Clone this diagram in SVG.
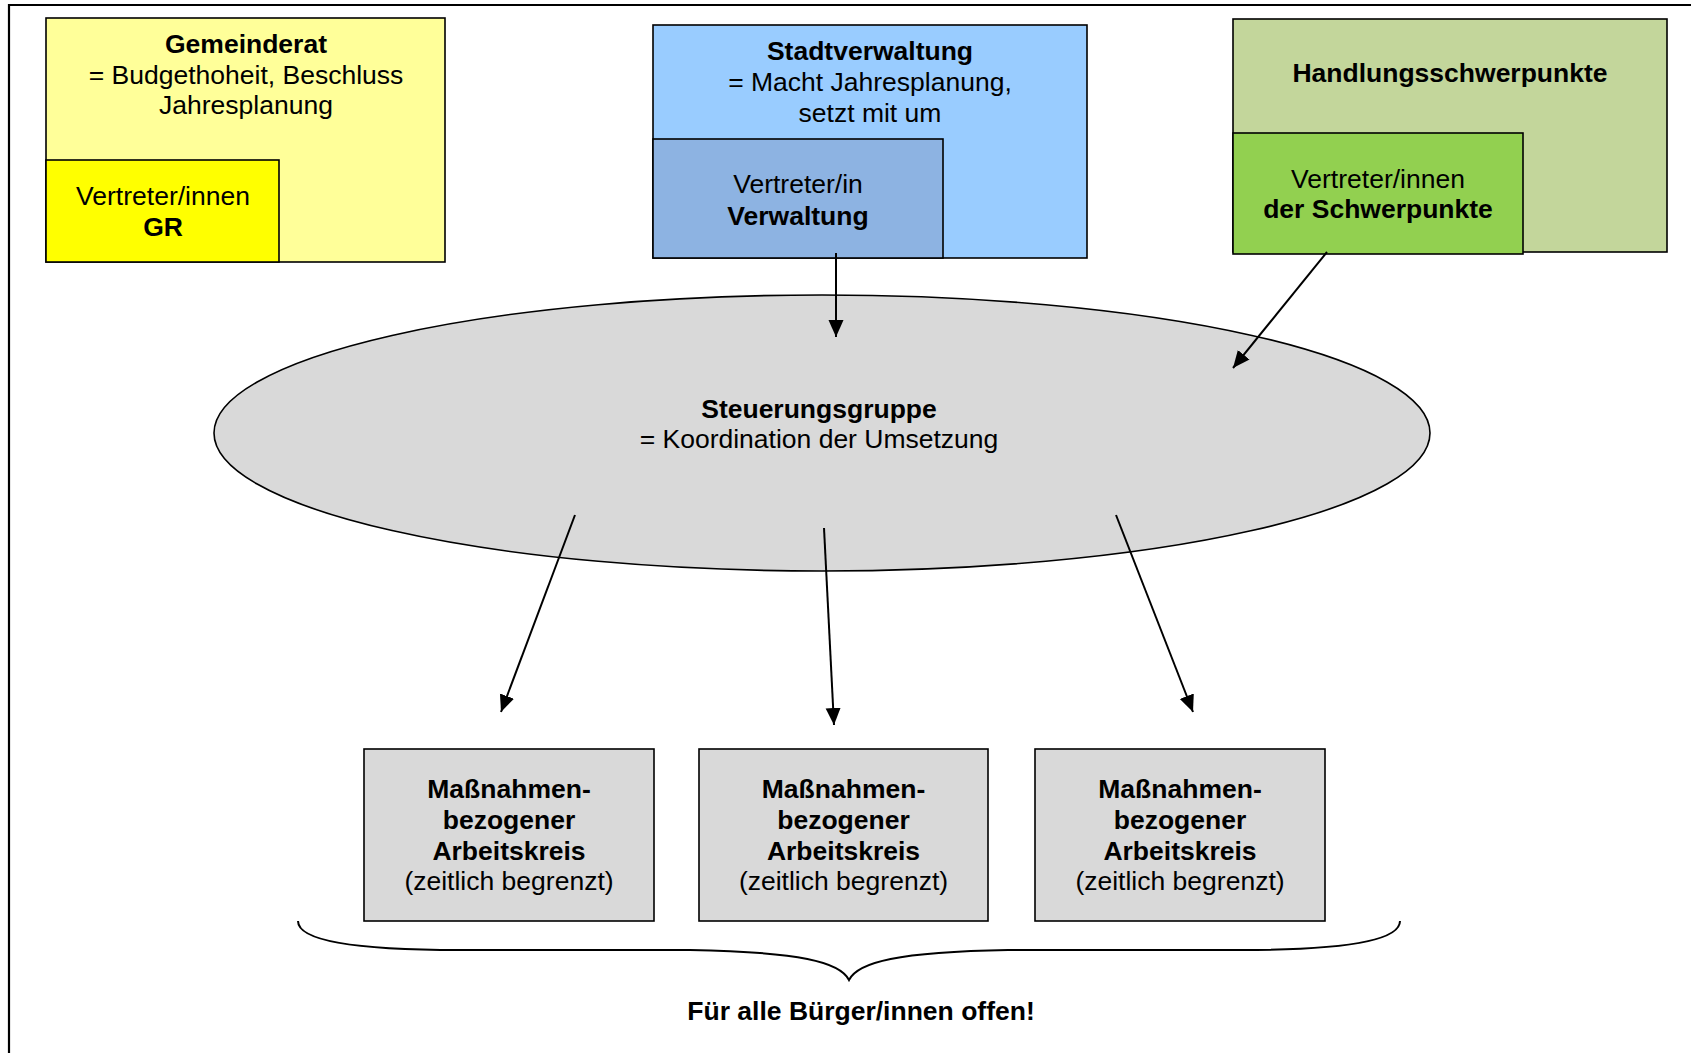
<svg xmlns="http://www.w3.org/2000/svg" width="1691" height="1053" viewBox="0 0 1691 1053">
<style>
text{font-family:"Liberation Sans",Arial,sans-serif;font-size:26.5px;fill:#000;text-anchor:middle}
.b{font-weight:bold}
.box{stroke:#000;stroke-width:1.6}
.con{stroke:#000;stroke-width:2;fill:none}
</style>
<defs>
<marker id="ah" markerUnits="userSpaceOnUse" markerWidth="18" markerHeight="16" refX="17" refY="7.5" orient="auto">
<path d="M0,0 L17,7.5 L0,15 z" fill="#000"/>
</marker>
</defs>
<rect width="1691" height="1053" fill="#fff"/>
<g id="frame" fill="none" stroke="#000" stroke-width="2.2">
<path d="M9,1053 L9,5 L1691,5"/>
</g>
<g id="gemeinderat">
<rect class="box" x="46" y="18" width="399" height="244" fill="#FFFF99"/>
<text class="b" x="246" y="53">Gemeinderat</text>
<text x="246" y="84">= Budgethoheit, Beschluss</text>
<text x="246" y="114">Jahresplanung</text>
</g>
<g id="vertreter-gr">
<rect class="box" x="46" y="160" width="233" height="102" fill="#FFFF00"/>
<text x="163" y="205">Vertreter/innen</text>
<text class="b" x="163" y="236">GR</text>
</g>
<g id="stadtverwaltung">
<rect class="box" x="653" y="25" width="434" height="233" fill="#99CCFF"/>
<text class="b" x="870" y="60">Stadtverwaltung</text>
<text x="870" y="91">= Macht Jahresplanung,</text>
<text x="870" y="122">setzt mit um</text>
</g>
<g id="vertreter-verwaltung">
<rect class="box" x="653" y="139" width="290" height="119" fill="#8DB3E2"/>
<text x="798" y="193">Vertreter/in</text>
<text class="b" x="798" y="225">Verwaltung</text>
</g>
<g id="handlungsschwerpunkte">
<rect class="box" x="1233" y="19" width="434" height="233" fill="#C3D69B"/>
<text class="b" x="1450" y="82">Handlungsschwerpunkte</text>
</g>
<g id="vertreter-schwerpunkte">
<rect class="box" x="1233" y="133" width="290" height="121" fill="#92D050"/>
<text x="1378" y="188">Vertreter/innen</text>
<text class="b" x="1378" y="218">der Schwerpunkte</text>
</g>
<g id="steuerungsgruppe">
<ellipse class="box" cx="822" cy="433" rx="608" ry="138" fill="#D9D9D9"/>
<text class="b" x="819" y="418">Steuerungsgruppe</text>
<text x="819" y="448">= Koordination der Umsetzung</text>
</g>
<g id="arbeitskreis-1">
<rect class="box" x="364" y="749" width="290" height="172" fill="#D9D9D9"/>
<text class="b" x="509" y="798">Maßnahmen-</text>
<text class="b" x="509" y="829">bezogener</text>
<text class="b" x="509" y="860">Arbeitskreis</text>
<text x="509" y="890">(zeitlich begrenzt)</text>
</g>
<g id="arbeitskreis-2">
<rect class="box" x="699" y="749" width="289" height="172" fill="#D9D9D9"/>
<text class="b" x="843.5" y="798">Maßnahmen-</text>
<text class="b" x="843.5" y="829">bezogener</text>
<text class="b" x="843.5" y="860">Arbeitskreis</text>
<text x="843.5" y="890">(zeitlich begrenzt)</text>
</g>
<g id="arbeitskreis-3">
<rect class="box" x="1035" y="749" width="290" height="172" fill="#D9D9D9"/>
<text class="b" x="1180" y="798">Maßnahmen-</text>
<text class="b" x="1180" y="829">bezogener</text>
<text class="b" x="1180" y="860">Arbeitskreis</text>
<text x="1180" y="890">(zeitlich begrenzt)</text>
</g>
<g id="connectors">
<line class="con" x1="836" y1="253" x2="836" y2="337" marker-end="url(#ah)"/>
<line class="con" x1="1327" y1="252" x2="1233" y2="368" marker-end="url(#ah)"/>
<line class="con" x1="575" y1="515" x2="501" y2="712" marker-end="url(#ah)"/>
<line class="con" x1="824" y1="528" x2="834" y2="725" marker-end="url(#ah)"/>
<line class="con" x1="1116" y1="515" x2="1193" y2="712" marker-end="url(#ah)"/>
</g>
<g id="brace">
<path class="con" d="M298,921 C298,945 380,950 460,950 L690,950 C800,952 840,962 849,980 C858,962 898,952 1008,950 L1240,950 C1318,950 1400,945 1400,921"/>
<text class="b" x="861" y="1020">Für alle Bürger/innen offen!</text>
</g>
</svg>
